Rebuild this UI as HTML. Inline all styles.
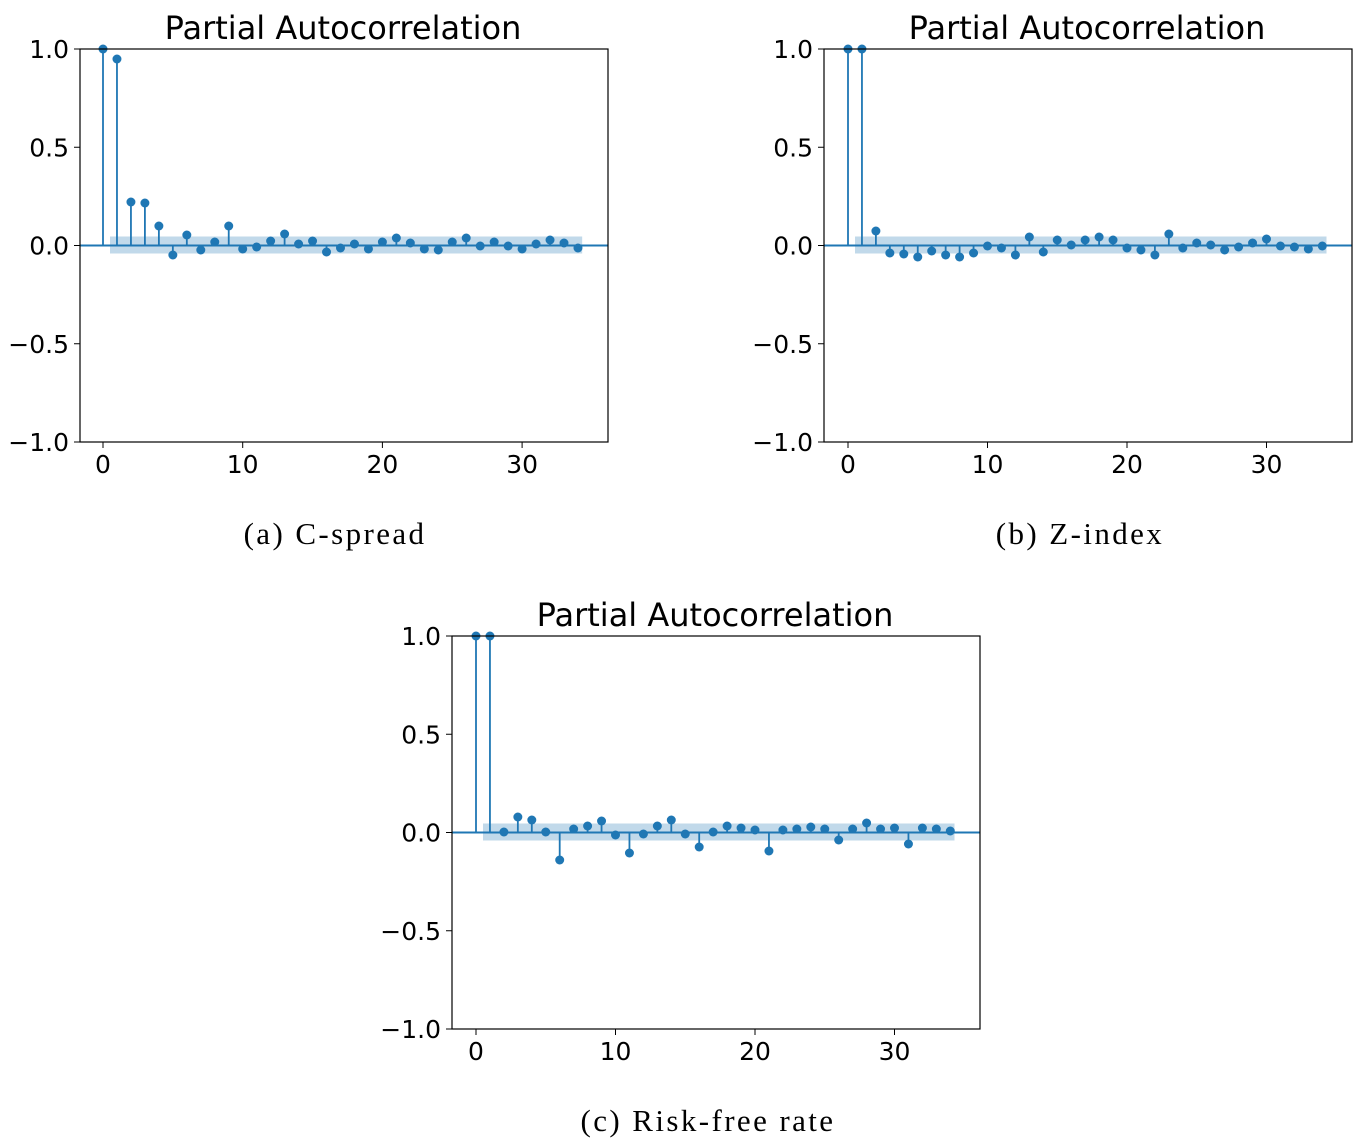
<!DOCTYPE html>
<html><head><meta charset="utf-8"><style>
html,body{margin:0;padding:0;background:#fff;width:1356px;height:1140px;overflow:hidden}
svg text{font-family:"DejaVu Sans",sans-serif;fill:#000}
</style></head><body>
<svg id="s" width="1356" height="1140" xmlns="http://www.w3.org/2000/svg"></svg>
<script>
const s=document.getElementById('s');let h='';
function plot(bx,by,x0,dx,vals){
  const w=528,hh=393,z=by+196.5;
  h+=`<text x="${bx+w/2-1}" y="${by-10}" font-size="32" text-anchor="middle">Partial Autocorrelation</text>`;
  h+=`<rect x="${x0+7}" y="${z-9}" width="${33.8*dx}" height="17" fill="#1f77b4" fill-opacity="0.28"/>`;
  h+=`<line x1="${bx}" y1="${z}" x2="${bx+w}" y2="${z}" stroke="#1f77b4" stroke-width="2"/>`;
  vals.forEach((v,i)=>{const x=x0+i*dx;
    h+=`<line x1="${x}" y1="${z}" x2="${x}" y2="${v}" stroke="#1f77b4" stroke-width="1.8"/><circle cx="${x}" cy="${v}" r="4.5" fill="#1f77b4"/>`;});
  h+=`<rect x="${bx}" y="${by}" width="${w}" height="${hh}" fill="none" stroke="#000" stroke-width="1.2"/>`;
  [["1.0",0],["0.5",0.25],["0.0",0.5],["\u22120.5",0.75],["\u22121.0",1]].forEach(([t,f])=>{const y=by+f*hh;
    h+=`<line x1="${bx-6}" y1="${y}" x2="${bx}" y2="${y}" stroke="#000"/><text x="${bx-11}" y="${y+9}" font-size="25" text-anchor="end">${t}</text>`;});
  [0,10,20,30].forEach(t=>{const x=x0+t*dx;
    h+=`<line x1="${x}" y1="${by+hh}" x2="${x}" y2="${by+hh+6}" stroke="#000"/><text x="${x}" y="${by+hh+31}" font-size="25" text-anchor="middle">${t}</text>`;});
}
plot(80,49,103,13.97,[49,59,202,203,226,255,235,250,242,226,249,247,241,234,244,241,252,248,244,249,242,238,243,249,250,242,238,246,242,246,249,244,240,243,248]);
plot(824,49,848,13.95,[49,49,231,253,254,257,251,255,257,253,246,248,255,237,252,240,245,240,237,240,248,250,255,234,248,243,245,250,247,243,239,246,247,249,246]);
plot(452,636,476,13.95,[636,636,832,817,820,832,860,829,826,821,835,853,834,826,820,834,847,832,826,828,830,851,830,829,827,829,840,829,823,829,828,844,828,829,831]);
const cs="font-family:'Liberation Serif',serif;letter-spacing:2.4px";
h+=`<text x="335" y="544" font-size="31" text-anchor="middle" style="${cs}">(a) C-spread</text>`;
h+=`<text x="1080" y="544" font-size="31" text-anchor="middle" style="${cs}">(b) Z-index</text>`;
h+=`<text x="708" y="1131" font-size="31" text-anchor="middle" style="${cs}">(c) Risk-free rate</text>`;
s.innerHTML=h;
</script>
</body></html>
